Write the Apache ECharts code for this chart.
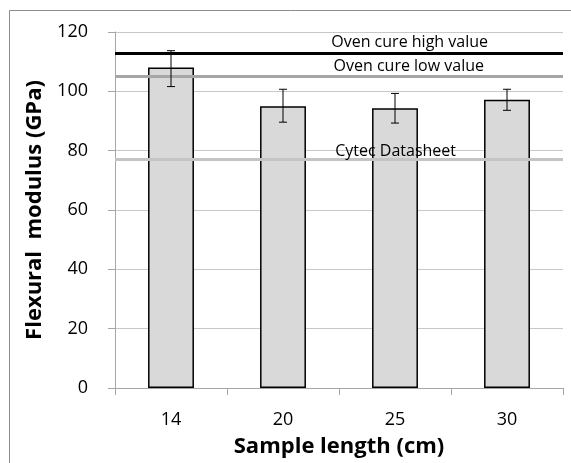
<!DOCTYPE html>
<html><head><meta charset="utf-8">
<script src="https://cdn.jsdelivr.net/npm/echarts@6/dist/echarts.min.js"></script>
<style>html,body{margin:0;padding:0;background:#fff}#c{width:571px;height:463px}</style>
</head><body><div id="c"></div>
<script>
const categories = ['14', '20', '25', '30'];
const modulus = [108, 95, 94.3, 97.2];
const errLow = [101.6, 89.6, 89.3, 93.6];
const errHigh = [113.7, 100.7, 99.3, 100.7];
const refNames = ['Oven cure high value', 'Oven cure low value', 'Cytec Datasheet'];
const refValues = [113, 105, 77];
const yTicks = [0, 20, 40, 60, 80, 100, 120];

const FONT = 'Open Sans';
const chart = echarts.init(document.getElementById('c'));
const refColors = ['#000', '#a6a6a6', '#c4c4c4'];
const refOffsets = [[-70, 3], [-74, 3], [-102, 5]];
const refSizes = [16, 16, 16];
chart.setOption({
  animation: false,
  backgroundColor: '#fff',
  textStyle: { fontFamily: FONT },
  graphic: [{ type: 'rect', shape: { x: 9.5, y: 10.5, width: 600, height: 600 }, style: { fill: 'none', stroke: '#8c8c8c', lineWidth: 1 }, silent: true }],
  grid: { left: 115, right: 8, top: 32, bottom: 73 },
  xAxis: {
    type: 'category', data: categories,
    name: 'Sample length (cm)', nameLocation: 'middle', nameGap: 48,
    nameTextStyle: { fontFamily: FONT, fontWeight: 'bold', fontSize: 22, color: '#000' },
    axisLine: { lineStyle: { color: '#a6a6a6', width: 1 } },
    axisTick: { show: true, length: 7, alignWithLabel: false, lineStyle: { color: '#a6a6a6' } },
    axisLabel: { fontFamily: FONT, fontSize: 18, color: '#000', margin: 23 }
  },
  yAxis: {
    type: 'value', min: yTicks[0], max: yTicks[yTicks.length - 1], interval: 20,
    name: 'Flexural  modulus (GPa)', nameLocation: 'middle', nameGap: 62,
    nameTextStyle: { fontFamily: FONT, fontWeight: 'bold', fontSize: 22, color: '#000' },
    axisLine: { show: true, lineStyle: { color: '#a6a6a6', width: 1 } },
    axisTick: { show: true, length: 7, lineStyle: { color: '#a6a6a6' } },
    axisLabel: { fontFamily: FONT, fontSize: 18, color: '#000', margin: 27 },
    splitLine: { lineStyle: { color: '#c8c8c8', width: 1 } }
  },
  series: [
    {
      type: 'bar', data: modulus, barWidth: '41%',
      itemStyle: { color: '#d9d9d9', borderColor: '#000', borderWidth: 1.5 },
      markLine: {
        silent: true, symbol: 'none',
        data: refValues.map((v, i) => ({
          yAxis: v, name: refNames[i],
          lineStyle: { color: refColors[i], width: 3, type: 'solid' },
          label: { show: true, formatter: refNames[i], position: 'insideEndTop', offset: refOffsets[i], fontFamily: FONT, fontSize: refSizes[i], color: '#000' }
        }))
      },
      z: 2
    },
    {
      type: 'custom',
      data: categories.map((c, i) => [i, errLow[i], errHigh[i]]),
      renderItem: function (params, api) {
        const x = api.coord([api.value(0), 0])[0];
        const lo = api.coord([api.value(0), api.value(1)])[1];
        const hi = api.coord([api.value(0), api.value(2)])[1];
        const hw = 4;
        const st = { stroke: '#000', lineWidth: 1 };
        return { type: 'group', children: [
          { type: 'line', shape: { x1: x, y1: lo, x2: x, y2: hi }, style: st },
          { type: 'line', shape: { x1: x - hw, y1: lo, x2: x + hw, y2: lo }, style: st },
          { type: 'line', shape: { x1: x - hw, y1: hi, x2: x + hw, y2: hi }, style: st }
        ]};
      },
      z: 5
    }
  ]
});
</script></body></html>
